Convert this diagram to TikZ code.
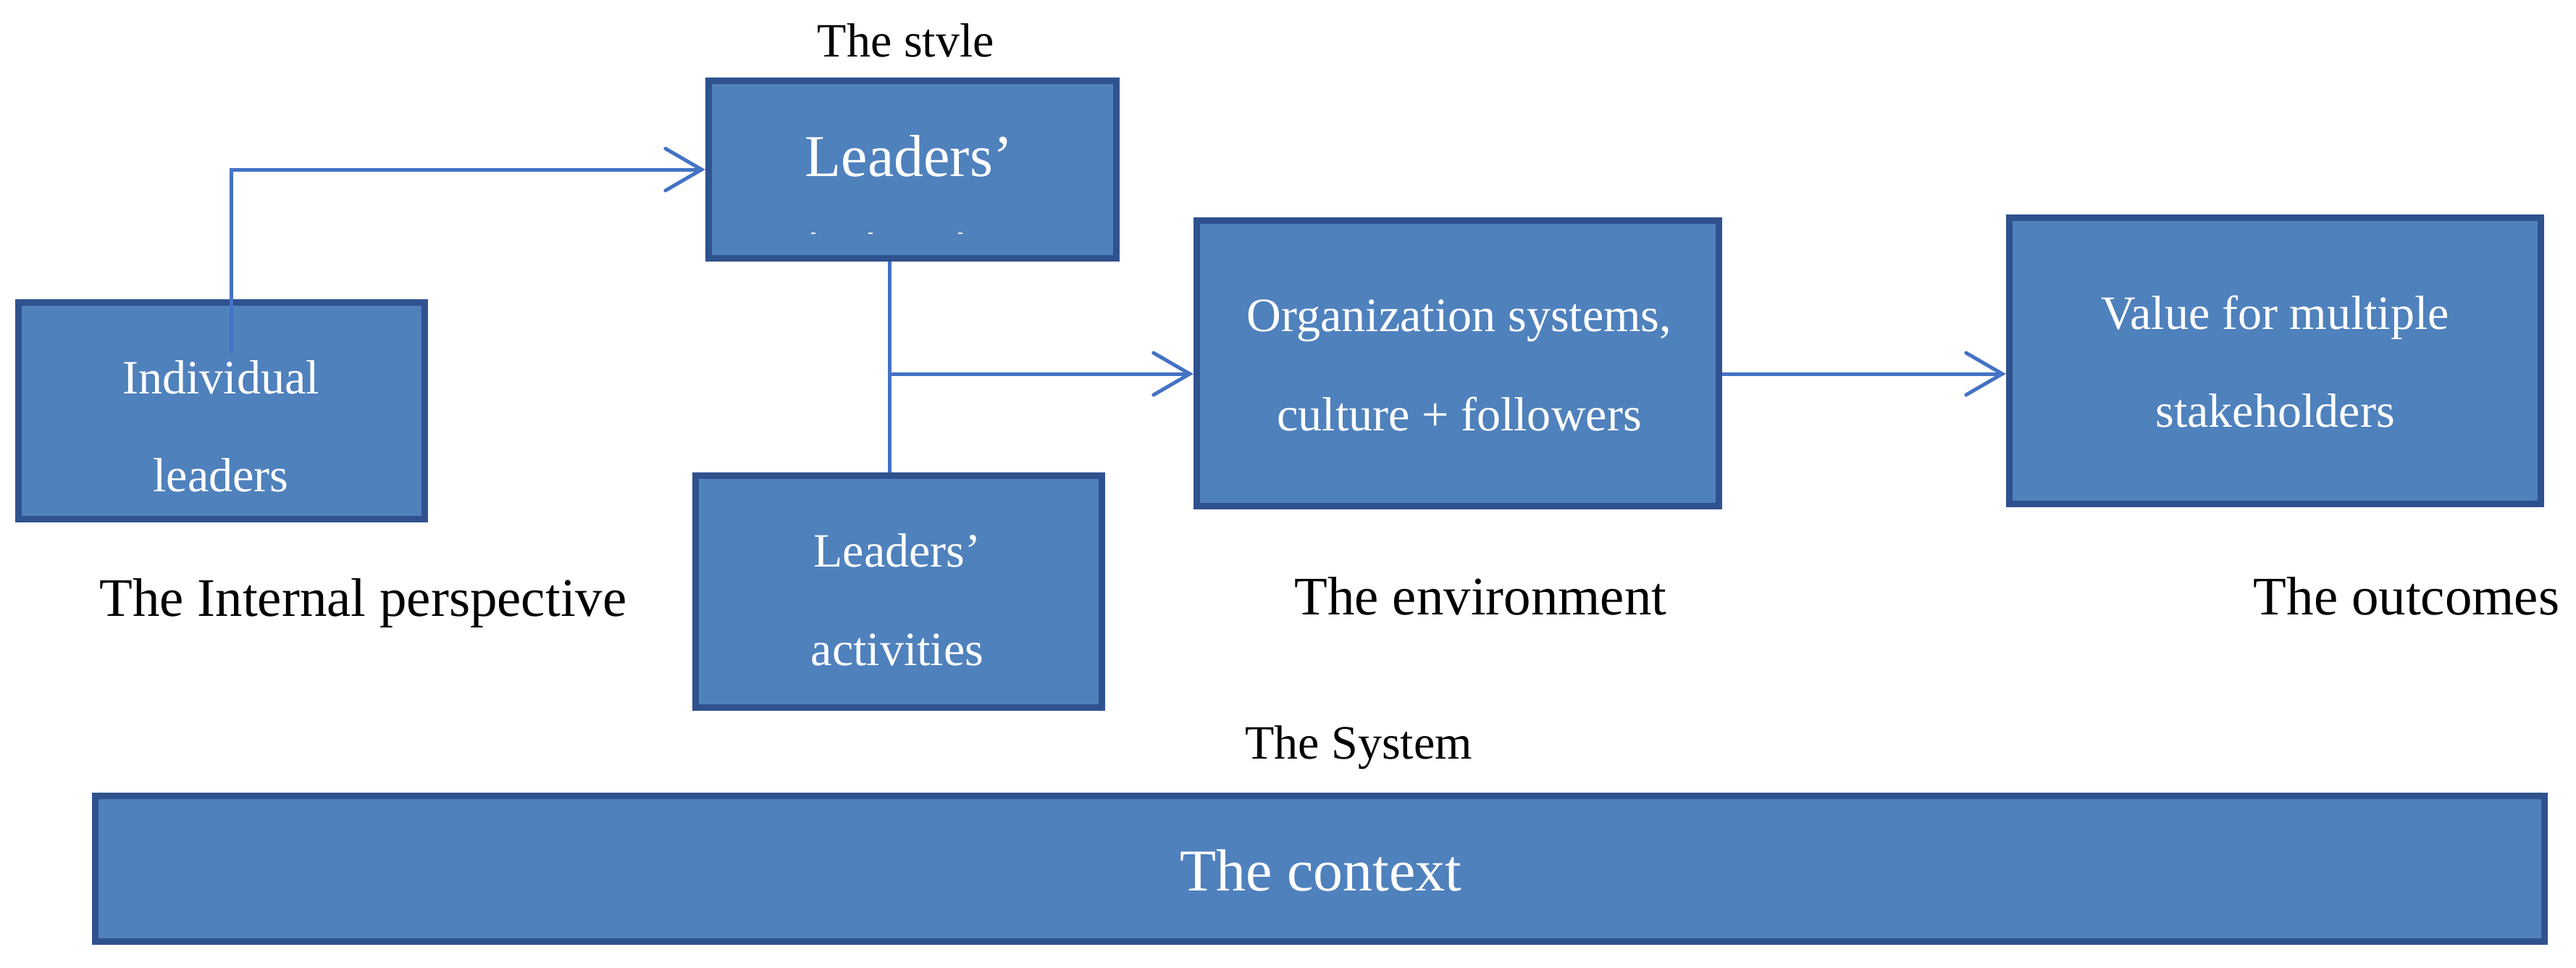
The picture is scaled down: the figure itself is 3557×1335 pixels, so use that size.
\documentclass[tikz,border=0pt]{standalone}
\usepackage{fontspec}
\setmainfont{Liberation Serif}
\usetikzlibrary{arrows.meta,calc}
\definecolor{boxfill}{RGB}{79,129,189}
\definecolor{boxborder}{RGB}{47,82,143}
\definecolor{connblue}{RGB}{68,114,196}
\tikzset{
  bluebox/.style={rectangle, draw=boxborder, fill=boxfill, line width=0.09cm, inner sep=0pt},
  intext/.style={text=white, inner sep=0pt, anchor=base, font=\fontsize{18.8pt}{22pt}\selectfont},
  bigtext/.style={text=white, inner sep=0pt, anchor=base, font=\fontsize{23.3pt}{27pt}\selectfont},
  outlabel/.style={text=black, inner sep=0pt, anchor=base, font=\fontsize{21.3pt}{25pt}\selectfont},
  smalllabel/.style={text=black, inner sep=0pt, anchor=base, font=\fontsize{18.8pt}{22pt}\selectfont},
  conn/.style={draw=connblue, line width=0.05cm},
  connarrow/.style={conn, -{Straight Barb[length=0.5cm, width=0.58cm, line cap=round]}}
}
\begin{document}
\begin{tikzpicture}[x=0.01cm, y=-0.01cm]
\useasboundingbox (0,0) rectangle (3557,1335);

% boxes
\node[bluebox, minimum width=5.61cm, minimum height=2.99cm] (indiv) at (306,567) {};
\node[bluebox, minimum width=5.63cm, minimum height=2.45cm] (style) at (1260,234) {};
\node[bluebox, minimum width=5.61cm, minimum height=3.20cm] (activ) at (1241,816.5) {};
\node[bluebox, minimum width=7.21cm, minimum height=3.94cm] (org) at (2013,501.5) {};
\node[bluebox, minimum width=7.34cm, minimum height=3.95cm] (value) at (3141.5,498) {};
\node[bluebox, minimum width=33.80cm, minimum height=2.01cm] (context) at (1822.5,1199) {};

% box texts
\node[intext] (indiv1) at (305,543) {Individual};
\node[intext] (indiv2) at (305,678) {leaders};
\node[bigtext] (style1) at (1255,243) {Leaders’};
\fill[white] (1120,321) rectangle (1126,323);
\fill[white] (1199,321) rectangle (1205,323);
\fill[white] (1323,321) rectangle (1329,323);
\node[intext] (activ1) at (1239,782) {Leaders’};
\node[intext] (activ2) at (1239,918) {activities};
\node[intext] (org1) at (2015,457.5) {Organization systems,};
\node[intext] (org2) at (2015,594.5) {culture + followers};
\node[intext] (value1) at (3141.5,454) {Value for multiple};
\node[intext] (value2) at (3141.5,589.5) {stakeholders};
\node[bigtext] (context1) at (1824,1229) {The context};

% outside labels
\node[smalllabel] (stylelabel) at (1251,78) {The stvle};
\node[outlabel] (internal) at (501.5,850) {The Internal perspective};
\node[outlabel] (environment) at (2044.5,848) {The environment};
\node[outlabel] (outcomes) at (3323,848) {The outcomes};
\node[smalllabel] (system) at (1876,1047) {The System};

% connectors
\coordinate (start) at (319,487);
\coordinate (junction) at (1228,516);
\draw[connarrow] (start) |- (style.west);
\draw[conn] (junction |- style.south) -- (junction |- activ.north);
\draw[connarrow] (junction) -- (junction -| org.west);
\draw[connarrow] (org.east |- junction) -- (value.west |- junction);
\end{tikzpicture}
\end{document}
